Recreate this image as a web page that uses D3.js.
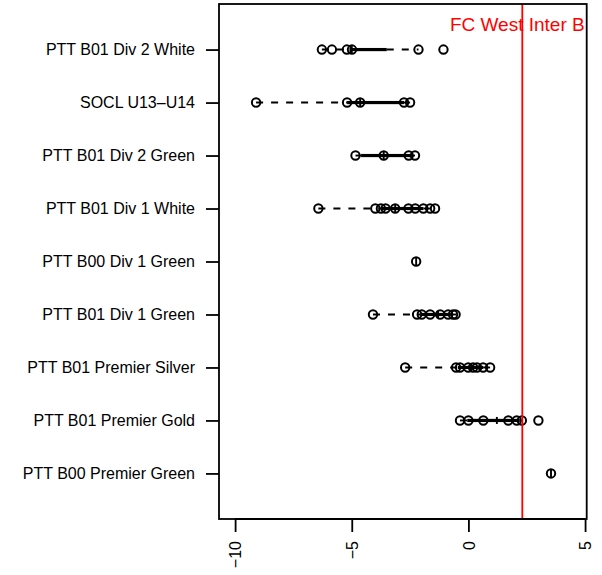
<!DOCTYPE html>
<html>
<head>
<meta charset="utf-8">
<script src="https://cdn.jsdelivr.net/npm/d3@7"></script>
<style>
  body { margin: 0; background: #fff; }
  svg { display: block; font-family: "Liberation Sans", Arial, Helvetica, sans-serif; }
</style>
</head>
<body>
<svg id="chart" width="602" height="575"></svg>
<script>
// groups, bottom (1) to top (9)
const teams = [
  'PTT B00 Premier Green',
  'PTT B01 Premier Gold',
  'PTT B01 Premier Silver',
  'PTT B01 Div 1 Green',
  'PTT B00 Div 1 Green',
  'PTT B01 Div 1 White',
  'PTT B01 Div 2 Green',
  'SOCL U13–U14',
  'PTT B01 Div 2 White'
]

// individual values per group
const points = [
  [3.54],
  [-0.36, 0.0, 0.64, 1.71, 2.07, 2.29, 3.0],
  [-2.71, -0.53, -0.36, -0.01, 0.2, 0.37, 0.63, 0.93],
  [-4.09, -2.2, -2.0, -1.64, -1.21, -0.87, -0.66, -0.55],
  [-2.24],
  [-6.43, -3.99, -3.75, -3.55, -3.14, -2.57, -2.28, -1.93, -1.64, -1.43],
  [-4.84, -3.63, -2.56, -2.29],
  [-9.10, -5.20, -4.64, -2.76, -2.50],
  [-6.28, -5.85, -5.21, -4.99, -2.14, -1.07]
]

// box stats
const whiskerLow = [3.54, -0.36, -2.71, -4.09, -2.24, -6.43, -4.84, -9.10, -6.28]
const hingeLow = [3.54, -0.05, -0.45, -2.05, -2.24, -3.75, -4.6, -5.20, -5.1]
const medians = [3.54, 1.22, 0.1, -1.3, -2.24, -3.14, -3.63, -4.64, -5.0]
const hingeHigh = [3.54, 2.2, 0.63, -0.75, -2.24, -1.93, -2.45, -2.76, -3.5]
const whiskerHigh = [3.54, 2.29, 0.93, -0.53, -2.24, -1.43, -2.29, -2.50, -2.14]

const xTicks = [-10, -5, 0, 5]
const refValue = 2.31
const refLabel = 'FC West Inter B'

const svg = d3.select('#chart')
const plotLeft = 219
const plotRight = 586.7
const plotTop = 4
const plotBottom = 519

const x = d3.scaleLinear().domain([-10.69, 5.07]).range([plotLeft, plotRight])
const y = d3.scaleLinear().domain([0.14, 9.86]).range([plotBottom, plotTop])

// boxes
const boxes = svg.append('g')
teams.forEach((t, i) => {
  const yy = y(i + 1)
  boxes.append('line')
    .attr('x1', x(whiskerLow[i])).attr('x2', x(hingeLow[i]))
    .attr('y1', yy).attr('y2', yy)
    .attr('stroke', '#000').attr('stroke-width', 1.9)
    .attr('stroke-dasharray', '7,8')
  boxes.append('line')
    .attr('x1', x(hingeHigh[i])).attr('x2', x(whiskerHigh[i]))
    .attr('y1', yy).attr('y2', yy)
    .attr('stroke', '#000').attr('stroke-width', 1.9)
    .attr('stroke-dasharray', '7,8')
  boxes.append('rect')
    .attr('x', x(hingeLow[i])).attr('width', x(hingeHigh[i]) - x(hingeLow[i]))
    .attr('y', yy - 1.6).attr('height', 3.2)
    .attr('fill', '#000')
  boxes.append('line')
    .attr('x1', x(medians[i])).attr('x2', x(medians[i]))
    .attr('y1', yy - 3.5).attr('y2', yy + 3.5)
    .attr('stroke', '#000').attr('stroke-width', 1.9)
})

// points
const pts = svg.append('g')
points.forEach((vals, i) => {
  pts.selectAll(null)
    .data(vals)
    .join('circle')
    .attr('cx', d => x(d))
    .attr('cy', y(i + 1))
    .attr('r', 4.2)
    .attr('fill', 'none')
    .attr('stroke', '#000')
    .attr('stroke-width', 2)
})

// reference line and label
svg.append('line')
  .attr('x1', x(refValue)).attr('x2', x(refValue))
  .attr('y1', plotTop).attr('y2', plotBottom)
  .attr('stroke', '#ff0000').attr('stroke-width', 1.8)

svg.append('text')
  .attr('x', x(refValue) - 5)
  .attr('y', 31)
  .attr('text-anchor', 'middle')
  .attr('fill', '#ff0000')
  .attr('font-size', '19px')
  .text(refLabel)

// frame
svg.append('rect')
  .attr('x', plotLeft).attr('y', plotTop)
  .attr('width', plotRight - plotLeft).attr('height', plotBottom - plotTop)
  .attr('fill', 'none').attr('stroke', '#000').attr('stroke-width', 1.8)

// x axis
const xAxis = svg.append('g')
  .attr('transform', `translate(0,${plotBottom})`)
  .call(d3.axisBottom(x).tickValues(xTicks).tickSize(13).tickSizeOuter(0))
xAxis.select('.domain')
  .attr('d', `M${x(xTicks[0])},0H${x(xTicks[xTicks.length - 1])}`)
  .attr('stroke-width', 1.8)
xAxis.selectAll('.tick line').attr('stroke-width', 1.8)
xAxis.selectAll('.tick text')
  .attr('font-size', '16px')
  .attr('fill', '#000')
  .attr('transform', 'rotate(-90)')
  .attr('text-anchor', 'end')
  .attr('x', -22)
  .attr('y', 0)
  .attr('dy', '0.35em')

// y axis
const yAxis = svg.append('g')
  .attr('transform', `translate(${plotLeft},0)`)
  .call(d3.axisLeft(y).tickValues(d3.range(1, 10)).tickFormat(d => teams[d - 1]).tickSize(13).tickSizeOuter(0))
yAxis.select('.domain').remove()
yAxis.selectAll('.tick line').attr('stroke-width', 1.8)
yAxis.selectAll('.tick text')
  .attr('font-size', '16px')
  .attr('fill', '#000')
  .attr('x', -24)

// axis groups default to sans-serif 10px; reset to page font
svg.selectAll('g').attr('font-family', null)
</script>
</body>
</html>
